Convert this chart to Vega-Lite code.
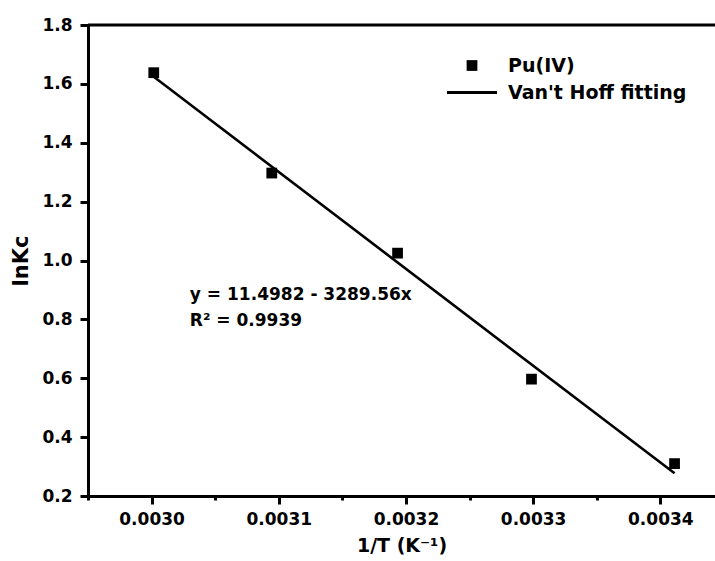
{
  "$schema": "https://vega.github.io/schema/vega-lite/v6.json",
  "width": 627,
  "height": 471,
  "autosize": "none",
  "padding": {"left": 88, "top": 25, "right": 0, "bottom": 65},
  "background": "white",
  "config": {
    "view": {"stroke": null},
    "font": "DejaVu Sans",
    "axis": {
      "grid": false,
      "domainColor": "black",
      "domainWidth": 3,
      "tickColor": "black",
      "tickWidth": 3,
      "labelColor": "black",
      "labelFont": "DejaVu Sans",
      "labelFontWeight": "bold",
      "labelFontSize": 17,
      "titleColor": "black",
      "titleFont": "DejaVu Sans",
      "titleFontWeight": "bold"
    }
  },
  "datasets": {
    "points": [
      {"x": 0.0030017, "y": 1.638, "series": "Pu(IV)"},
      {"x": 0.0030945, "y": 1.297, "series": "Pu(IV)"},
      {"x": 0.0031934, "y": 1.025, "series": "Pu(IV)"},
      {"x": 0.0032987, "y": 0.597, "series": "Pu(IV)"},
      {"x": 0.0034112, "y": 0.31, "series": "Pu(IV)"}
    ],
    "fit": [
      {"x": 0.0030017, "y": 1.624},
      {"x": 0.0034112, "y": 0.277}
    ],
    "notes": [
      {"x": 0.0030301, "y": 0.8665, "text": "y = 11.4982 - 3289.56x"},
      {"x": 0.0030301, "y": 0.776, "text": "R² = 0.9939"}
    ],
    "frame": [{"top": 1.8}]
  },
  "layer": [
    {
      "data": {"name": "fit"},
      "mark": {"type": "line", "color": "black", "strokeWidth": 2.6},
      "encoding": {
        "x": {
          "field": "x",
          "type": "quantitative",
          "title": "1/T (K⁻¹)",
          "scale": {"domain": [0.00295, 0.003443], "nice": false, "zero": false},
          "axis": {
            "values": [0.00295, 0.003, 0.00305, 0.0031, 0.00315, 0.0032, 0.00325, 0.0033, 0.00335, 0.0034],
            "labelExpr": "abs(round(datum.value*10000)-datum.value*10000) < 0.01 ? format(datum.value, '.4f') : ''",
            "tickSize": {"condition": {"test": "abs(round(datum.value*10000)-datum.value*10000) < 0.01", "value": 8}, "value": 4},
            "labelPadding": 7,
            "labelFlush": false,
            "labelOverlap": false,
            "titleFontSize": 19,
            "titlePadding": 9
          }
        },
        "y": {
          "field": "y",
          "type": "quantitative",
          "title": "lnKc",
          "scale": {"domain": [0.2, 1.8], "nice": false, "zero": false},
          "axis": {
            "values": [0.2, 0.3, 0.4, 0.5, 0.6, 0.7, 0.8, 0.9, 1.0, 1.1, 1.2, 1.3, 1.4, 1.5, 1.6, 1.7, 1.8],
            "labelExpr": "abs(round(datum.value*5)-datum.value*5) < 0.01 ? format(datum.value, '.1f') : ''",
            "tickSize": {"condition": {"test": "abs(round(datum.value*5)-datum.value*5) < 0.01", "value": 8}, "value": 4},
            "labelPadding": 8,
            "labelFlush": false,
            "labelOverlap": false,
            "titleFontSize": 21,
            "titlePadding": 10
          }
        }
      }
    },
    {
      "data": {"name": "points"},
      "mark": {"type": "point", "filled": true, "color": "black", "opacity": 1, "size": 625},
      "encoding": {
        "x": {"field": "x", "type": "quantitative"},
        "y": {"field": "y", "type": "quantitative"},
        "shape": {
          "field": "series",
          "type": "nominal",
          "scale": {
            "domain": ["Pu(IV)", "Van't Hoff fitting"],
            "range": ["M-0.43,-0.43H0.43V0.43H-0.43Z", "M-2,-0.12H2V0.12H-2Z"]
          },
          "legend": {
            "orient": "none",
            "legendX": 371.5,
            "legendY": 28,
            "title": null,
            "padding": 0,
            "labelFont": "DejaVu Sans",
            "labelFontWeight": "bold",
            "labelFontSize": 19,
            "labelColor": "black",
            "labelLimit": 400,
            "labelOffset": 23.5,
            "rowPadding": 4,
            "symbolSize": 625,
            "symbolFillColor": "black",
            "symbolStrokeWidth": 0,
            "symbolOpacity": 1
          }
        }
      }
    },
    {
      "data": {"name": "notes"},
      "mark": {"type": "text", "align": "left", "baseline": "alphabetic", "font": "DejaVu Sans", "fontWeight": "bold", "fontSize": 17, "color": "black"},
      "encoding": {
        "x": {"field": "x", "type": "quantitative"},
        "y": {"field": "y", "type": "quantitative"},
        "text": {"field": "text", "type": "nominal"}
      }
    },
    {
      "data": {"name": "frame"},
      "mark": {"type": "rule", "color": "black", "strokeWidth": 3},
      "encoding": {
        "y": {"field": "top", "type": "quantitative"}
      }
    }
  ]
}
